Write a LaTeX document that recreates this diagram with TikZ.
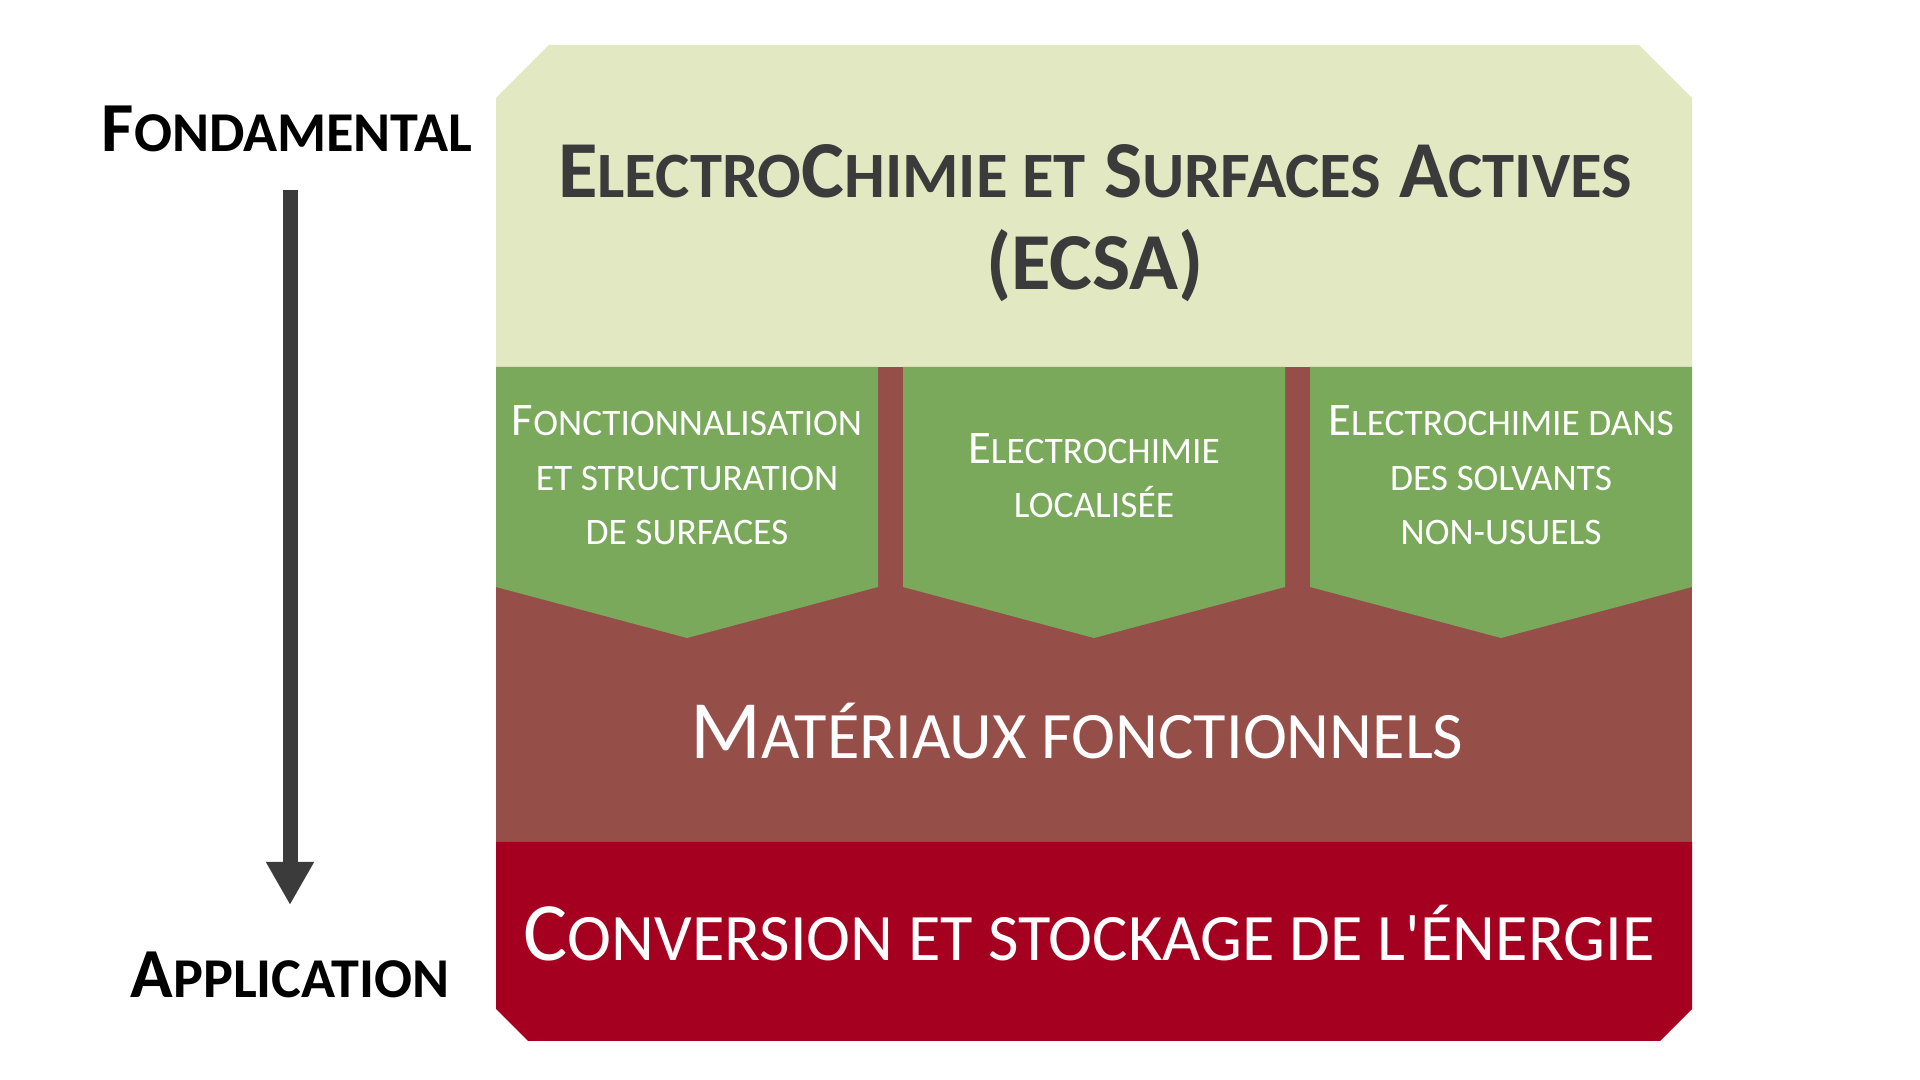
\documentclass[tikz,border=0pt]{standalone}
\usepackage{fontspec}
\usepackage{graphicx}
\usetikzlibrary{arrows.meta}
\newfontfamily\carlito{Carlito}
\definecolor{pale}{HTML}{E2E8C1}
\definecolor{leaf}{HTML}{7AA95C}
\definecolor{brick}{HTML}{954F48}
\definecolor{wine}{HTML}{A5001F}
\definecolor{ink}{HTML}{3B3B3B}
\newcommand{\sm}[1]{\scalebox{0.8}{#1}}
\tikzstyle{arrow} = [-{Triangle[width=4.5mm,length=4.3mm]}, line width=1.5mm, draw=ink]
\tikzstyle{side} = [anchor=base, font=\carlito\bfseries\fontsize{20}{24}\selectfont, text=black, inner sep=0pt]
\tikzstyle{title} = [anchor=base, align=center, font=\carlito\bfseries\fontsize{23}{26.2}\selectfont, text=ink, inner sep=0pt]
\tikzstyle{theme} = [anchor=base, align=center, font=\carlito\fontsize{13.3}{15.6}\selectfont, text=white, inner sep=0pt]
\tikzstyle{band} = [anchor=base, font=\carlito\fontsize{23.6}{28}\selectfont, text=white, inner sep=0pt]

\begin{document}
\begin{tikzpicture}
        \useasboundingbox (0,0) rectangle (19.2,10.8);
        \fill[pale] (4.96,7.13) -- (4.96,9.82) -- (5.49,10.35) -- (16.39,10.35) -- (16.92,9.82) -- (16.92,7.13) -- cycle;
        \fill[brick] (4.96,2.38) rectangle (16.92,7.13);
        \fill[wine] (4.96,2.38) -- (4.96,0.71) -- (5.28,0.39) -- (16.60,0.39) -- (16.92,0.71) -- (16.92,2.38) -- cycle;
        \foreach \xa/\xb in {4.96/8.78, 9.03/12.85, 13.10/16.92}
          \fill[leaf] (\xa,7.13) -- (\xb,7.13) -- (\xb,4.93) -- ({(\xa+\xb)/2},4.42) -- (\xa,4.93) -- cycle;

        \node[side] at (2.87,9.28) (fond) {F\sm{ONDAMENTAL}};
        \node[side] at (2.90,0.82) (appl) {A\sm{PPLICATION}};
        \coordinate (top) at (2.90,8.90);
        \coordinate (bottom) at (2.90,1.75);
        \draw[arrow] (top) -- (bottom);

        \node[title] at (10.95,7.90) (ecsa) {E\sm{LECTRO}C\sm{HIMIE ET} S\sm{URFACES} A\sm{CTIVES}\\(ECSA)};
        \node[theme] at (6.87,5.35) (fonc) {F\sm{ONCTIONNALISATION}\\\sm{ET STRUCTURATION}\\\sm{DE SURFACES}};
        \node[theme] at (10.94,5.62) (loc) {E\sm{LECTROCHIMIE}\\\sm{LOCALISÉE}};
        \node[theme] at (15.01,5.35) (solv) {E\sm{LECTROCHIMIE DANS}\\\sm{DES SOLVANTS}\\\sm{NON-USUELS}};
        \node[band] at (10.77,3.21) (mat) {M\sm{ATÉRIAUX FONCTIONNELS}};
        \node[band] at (10.89,1.19) (conv) {C\sm{ONVERSION ET STOCKAGE DE L'ÉNERGIE}};

      \end{tikzpicture}
\end{document}
